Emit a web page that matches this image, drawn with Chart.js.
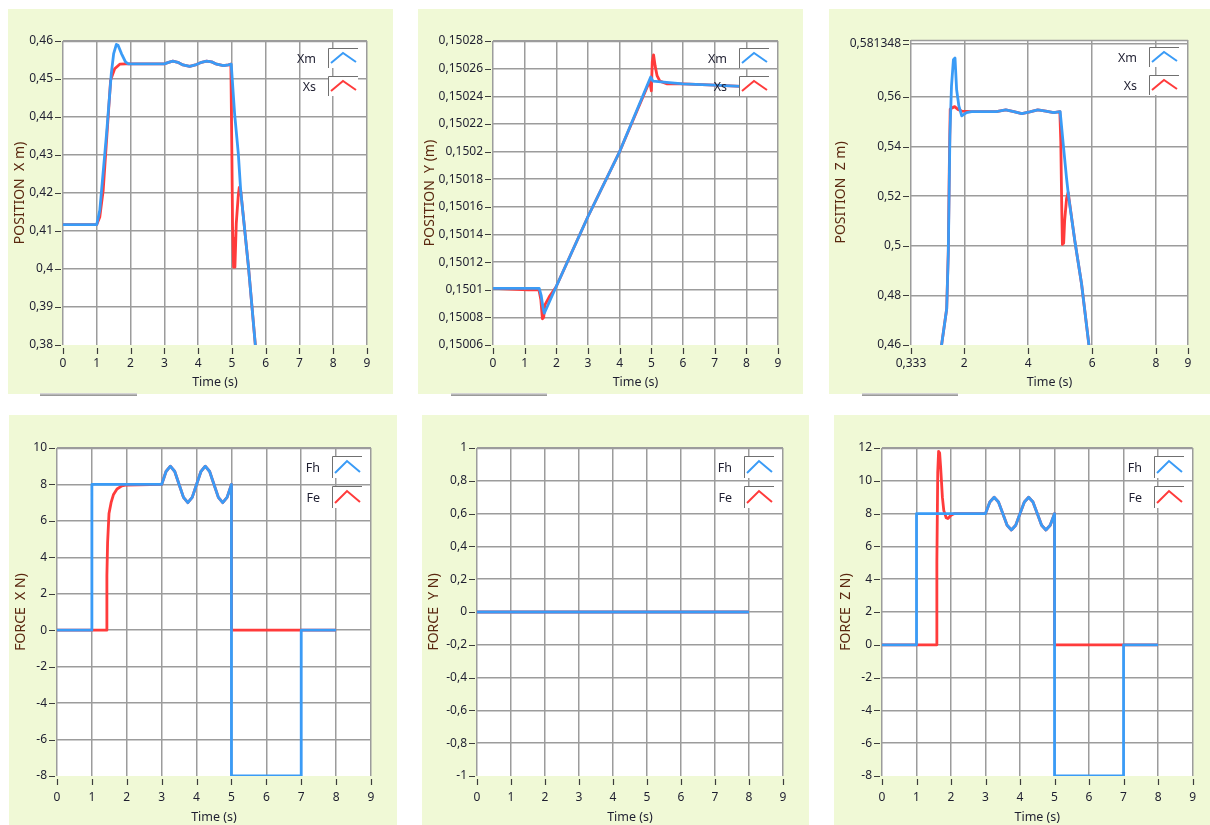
<!DOCTYPE html>
<html>
<head>
<meta charset="utf-8">
<script src="https://cdn.jsdelivr.net/npm/chart.js@4.4.1/dist/chart.umd.min.js"></script>
<style>
  html, body { margin: 0; padding: 0; background: #ffffff; }
  body { position: relative; width: 1210px; height: 825px; overflow: hidden; }
  .panel { position: absolute; background: #f0f9d6; }
  .panel canvas { position: absolute; left: 0; top: 0; }
  .bar { position: absolute; height: 3px; background: linear-gradient(#e2e2e2, #8c8c8c); }
</style>
</head>
<body>
<div class="panel" id="p1"><canvas id="c1"></canvas></div>
<div class="panel" id="p2"><canvas id="c2"></canvas></div>
<div class="panel" id="p3"><canvas id="c3"></canvas></div>
<div class="panel" id="p4"><canvas id="c4"></canvas></div>
<div class="panel" id="p5"><canvas id="c5"></canvas></div>
<div class="panel" id="p6"><canvas id="c6"></canvas></div>
<div class="bar" style="left:40px;top:393px;width:97px"></div>
<div class="bar" style="left:451px;top:393px;width:96px"></div>
<div class="bar" style="left:862px;top:393px;width:96px"></div>
<script>
// ---- time axis (seconds) ----
const timeTicks  = [0, 1, 2, 3, 4, 5, 6, 7, 8, 9];
const timeLabels = ['0', '1', '2', '3', '4', '5', '6', '7', '8', '9'];

// ---- POSITION X (m): master Xm, slave Xs ----
const posX_tm = [0, 1.00, 1.09, 1.29, 1.43, 1.50, 1.58, 1.63, 1.73, 1.85, 1.93,
                 3.00, 3.10, 3.25, 3.40, 3.55, 3.75, 3.95, 4.10, 4.25, 4.40, 4.55, 4.75, 4.90, 4.98,
                 5.08, 5.19, 5.26, 5.49, 5.69, 5.90];
const posX_xm = [0.4117, 0.4117, 0.4155, 0.4356, 0.4514, 0.4567, 0.4591, 0.4589, 0.4567, 0.4545, 0.4540,
                 0.4540, 0.4543, 0.4547, 0.4544, 0.4537, 0.4533, 0.4538, 0.4544, 0.4547, 0.4545, 0.4539, 0.4535, 0.4537, 0.4539,
                 0.4409, 0.4304, 0.4207, 0.4006, 0.3804, 0.3600];
const posX_ts = [0, 1.00, 1.09, 1.19, 1.29, 1.41, 1.53, 1.68, 1.86,
                 3.00, 3.10, 3.25, 3.40, 3.55, 3.75, 3.95, 4.10, 4.25, 4.40, 4.55, 4.75, 4.90,
                 4.97, 5.00, 5.02, 5.05, 5.07, 5.09, 5.13, 5.19, 5.22, 5.26, 5.49, 5.69, 5.90];
const posX_xs = [0.4117, 0.4117, 0.4137, 0.4207, 0.4339, 0.4497, 0.4527, 0.4539, 0.4540,
                 0.4540, 0.4543, 0.4547, 0.4544, 0.4537, 0.4533, 0.4538, 0.4544, 0.4547, 0.4545, 0.4539, 0.4535, 0.4537,
                 0.4539, 0.4300, 0.4111, 0.4005, 0.4080, 0.4005, 0.4120, 0.4195, 0.4215, 0.4207, 0.4006, 0.3804, 0.3600];
const posX_yTicks  = [0.38, 0.39, 0.40, 0.41, 0.42, 0.43, 0.44, 0.45, 0.46];
const posX_yLabels = ['0,38', '0,39', '0,4', '0,41', '0,42', '0,43', '0,44', '0,45', '0,46'];

// ---- POSITION Y (m) ----
const posY_tm = [0, 1.46, 1.52, 1.58, 1.62, 1.99, 3.00, 4.00, 4.98, 5.05, 6.00, 7.00, 8.00];
const posY_ym = [0.150101, 0.150101, 0.150096, 0.150087, 0.150083, 0.150102, 0.150153, 0.150200,
                 0.150254, 0.150251, 0.150249, 0.150248, 0.150247];
const posY_ts = [0, 1.10, 1.45, 1.51, 1.56, 1.60, 1.64, 1.78, 1.99, 3.00, 4.00, 4.95, 5.00, 5.03,
                 5.07, 5.12, 5.18, 5.27, 5.50, 6.00, 7.00, 8.00];
const posY_ys = [0.150101, 0.150100, 0.150100, 0.150093, 0.150079, 0.150080, 0.150089, 0.150095, 0.150102,
                 0.150153, 0.150200, 0.150251, 0.150244, 0.150265, 0.150270, 0.150262, 0.150255, 0.150251,
                 0.150249, 0.150249, 0.150248, 0.150247];
const posY_yTicks  = [0.15006, 0.15008, 0.15010, 0.15012, 0.15014, 0.15016, 0.15018, 0.15020,
                      0.15022, 0.15024, 0.15026, 0.15028];
const posY_yLabels = ['0,15006', '0,15008', '0,1501', '0,15012', '0,15014', '0,15016', '0,15018',
                      '0,1502', '0,15022', '0,15024', '0,15026', '0,15028'];

// ---- POSITION Z (m) ----
const posZ_tm = [1.00, 1.29, 1.45, 1.50, 1.55, 1.60, 1.66, 1.71, 1.76, 1.83, 1.92, 2.07, 2.23,
                 3.00, 3.30, 3.55, 3.80, 4.05, 4.30, 4.55, 4.80, 5.00,
                 5.09, 5.20, 5.27, 5.46, 5.67, 5.90, 6.00];
const posZ_zm = [0.4300, 0.4600, 0.4746, 0.4966, 0.5444, 0.5644, 0.5750, 0.5757, 0.5630, 0.5564, 0.5524, 0.5537, 0.5541,
                 0.5541, 0.5548, 0.5541, 0.5533, 0.5540, 0.5548, 0.5543, 0.5537, 0.5541,
                 0.5418, 0.5272, 0.5192, 0.5019, 0.4846, 0.4600, 0.4490];
const posZ_ts = [1.00, 1.29, 1.45, 1.50, 1.53, 1.56, 1.62, 1.70, 1.80, 1.92, 2.23,
                 3.00, 3.30, 3.55, 3.80, 4.05, 4.30, 4.55, 4.80,
                 4.99, 5.02, 5.05, 5.07, 5.09, 5.11, 5.14, 5.20, 5.25, 5.32, 5.46, 5.67, 5.90, 6.00];
const posZ_zs = [0.4300, 0.4600, 0.4746, 0.4980, 0.5300, 0.5551, 0.5556, 0.5561, 0.5550, 0.5543, 0.5541,
                 0.5541, 0.5548, 0.5541, 0.5533, 0.5540, 0.5548, 0.5543, 0.5537,
                 0.5541, 0.5420, 0.5150, 0.5005, 0.5060, 0.5010, 0.5100, 0.5190, 0.5215, 0.5150, 0.5019, 0.4846, 0.4600, 0.4490];
const posZ_xTicks  = [0.333, 2, 4, 6, 8, 9];
const posZ_xLabels = ['0,333', '2', '4', '6', '8', '9'];
const posZ_yTicks  = [0.46, 0.48, 0.50, 0.52, 0.54, 0.56, 0.581348];
const posZ_yLabels = ['0,46', '0,48', '0,5', '0,52', '0,54', '0,56', '0,581348'];

// ---- FORCE X (N): human Fh, environment Fe ----
const forceX_th = [0, 1, 1, 3, 3.125, 3.25, 3.375, 3.5, 3.625, 3.75, 3.875, 4, 4.125, 4.25, 4.375, 4.5,
                   4.625, 4.75, 4.875, 5, 5, 7, 7, 8];
const forceX_fh = [0, 0, 8, 8, 8.71, 9, 8.71, 8, 7.29, 7, 7.29, 8, 8.71, 9, 8.71, 8,
                   7.29, 7, 7.29, 8, -8, -8, 0, 0];
const forceX_te = [0, 1.41, 1.43, 1.45, 1.49, 1.55, 1.62, 1.72, 1.86, 2.00,
                   3, 3.125, 3.25, 3.375, 3.5, 3.625, 3.75, 3.875, 4, 4.125, 4.25, 4.375, 4.5,
                   4.625, 4.75, 4.875, 5, 5, 8];
const forceX_fe = [0, 0, 3.0, 4.8, 6.4, 7.0, 7.45, 7.75, 7.92, 7.97,
                   8, 8.71, 9, 8.71, 8, 7.29, 7, 7.29, 8, 8.71, 9, 8.71, 8,
                   7.29, 7, 7.29, 8, 0, 0];

// ---- FORCE Y (N) ----
const forceY_t  = [0, 8];
const forceY_fh = [0, 0];
const forceY_fe = [0, 0];
const forceY_yTicks  = [-1, -0.8, -0.6, -0.4, -0.2, 0, 0.2, 0.4, 0.6, 0.8, 1];
const forceY_yLabels = ['-1', '-0,8', '-0,6', '-0,4', '-0,2', '0', '0,2', '0,4', '0,6', '0,8', '1'];

// ---- FORCE Z (N) ----
const forceZ_th = [0, 1, 1, 3, 3.125, 3.25, 3.375, 3.5, 3.625, 3.75, 3.875, 4, 4.125, 4.25, 4.375, 4.5,
                   4.625, 4.75, 4.875, 5, 5, 7, 7, 8];
const forceZ_fh = [0, 0, 8, 8, 8.71, 9, 8.71, 8, 7.29, 7, 7.29, 8, 8.71, 9, 8.71, 8,
                   7.29, 7, 7.29, 8, -8, -8, 0, 0];
const forceZ_te = [0, 1.575, 1.59, 1.615, 1.64, 1.67, 1.70, 1.75, 1.79, 1.86, 1.91, 2.00, 2.10,
                   3, 3.125, 3.25, 3.375, 3.5, 3.625, 3.75, 3.875, 4, 4.125, 4.25, 4.375, 4.5,
                   4.625, 4.75, 4.875, 5, 5, 8];
const forceZ_fe = [0, 0, 5.0, 10.5, 11.8, 11.7, 10.8, 9.0, 8.2, 7.75, 7.7, 7.9, 8.0,
                   8, 8.71, 9, 8.71, 8, 7.29, 7, 7.29, 8, 8.71, 9, 8.71, 8,
                   7.29, 7, 7.29, 8, 0, 0];

const forceXZ_yTicksX  = [-8, -6, -4, -2, 0, 2, 4, 6, 8, 10];
const forceXZ_yLabelsX = ['-8', '-6', '-4', '-2', '0', '2', '4', '6', '8', '10'];
const forceXZ_yTicksZ  = [-8, -6, -4, -2, 0, 2, 4, 6, 8, 10, 12];
const forceXZ_yLabelsZ = ['-8', '-6', '-4', '-2', '0', '2', '4', '6', '8', '10', '12'];

// ---- styling ----
const BLUE = '#3a9bf6', RED = '#ff3b3b';
const GRID = '#9c9c9c', TICKMARK = '#3c3c3c', LABEL = '#1e1e30', TITLE = '#5a2810';
const FONT = "'Noto Sans', 'Liberation Sans', sans-serif";

function pairs(t, v) { return t.map((x, i) => ({ x: x, y: v[i] })); }

// white plot area on the green panel
const plotBackground = {
  id: 'plotBackground',
  beforeDraw(chart) {
    const { ctx, chartArea: a } = chart;
    ctx.save();
    ctx.fillStyle = '#ffffff';
    ctx.fillRect(a.left, a.top, a.right - a.left, a.bottom - a.top);
    ctx.restore();
  }
};

// small dark tick marks set slightly off the plot edge, plus top frame line
const tickMarks = {
  id: 'tickMarks',
  afterDraw(chart, args, opts) {
    const { ctx, chartArea: a, scales } = chart;
    ctx.save();
    ctx.strokeStyle = GRID;
    ctx.lineWidth = 1.5;
    ctx.beginPath();
    ctx.moveTo(a.left, a.top + 0.5); ctx.lineTo(a.right, a.top + 0.5);
    ctx.stroke();
    ctx.strokeStyle = TICKMARK;
    ctx.lineWidth = 1.2;
    ctx.beginPath();
    scales.x.ticks.forEach(t => {
      const px = Math.round(scales.x.getPixelForValue(t.value)) + 0.5;
      ctx.moveTo(px, a.bottom + 3); ctx.lineTo(px, a.bottom + 9);
    });
    const ys = scales.y.ticks.map(t => Math.round(scales.y.getPixelForValue(t.value)) + 0.5);
    if (opts.topMark) ys.push(Math.round(a.top) + 0.5);
    ys.forEach(py => { ctx.moveTo(a.left - 8, py); ctx.lineTo(a.left - 2, py); });
    ctx.stroke();
    ctx.restore();
  }
};

// series legend boxes at the top-right corner of the plot
const boxLegend = {
  id: 'boxLegend',
  afterDraw(chart, args, opts) {
    const { ctx, chartArea: a } = chart;
    const bw = 30, bh = opts.boxH, x0 = Math.round(a.right) - 39;
    ctx.save();
    opts.items.forEach((it, i) => {
      const by = Math.round(a.top) + opts.first + i * opts.gap;
      ctx.fillStyle = '#ffffff';
      ctx.fillRect(x0, by, bw, bh);
      ctx.strokeStyle = '#707070';
      ctx.lineWidth = 1;
      ctx.beginPath();
      ctx.moveTo(x0 + 0.5, by + bh); ctx.lineTo(x0 + 0.5, by + 0.5); ctx.lineTo(x0 + bw, by + 0.5);
      ctx.stroke();
      ctx.strokeStyle = it.color;
      ctx.lineWidth = 2;
      ctx.lineJoin = 'miter';
      ctx.beginPath();
      ctx.moveTo(x0 + 3, by + bh - 5); ctx.lineTo(x0 + 15, by + 5); ctx.lineTo(x0 + 28, by + bh - 6);
      ctx.stroke();
      ctx.fillStyle = LABEL;
      ctx.font = '12.5px ' + FONT;
      ctx.textAlign = 'right';
      ctx.textBaseline = 'middle';
      ctx.fillText(it.label, x0 - 12, by + bh / 2 + 1);
    });
    ctx.restore();
  }
};

function makeChart(n, box, plot, spec) {
  const panel = document.getElementById('p' + n);
  const canvas = document.getElementById('c' + n);
  const w = box[2] - box[0], h = box[3] - box[1];
  panel.style.left = box[0] + 'px'; panel.style.top = box[1] + 'px';
  panel.style.width = w + 'px'; panel.style.height = h + 'px';
  canvas.width = w; canvas.height = h;
  canvas.style.width = w + 'px'; canvas.style.height = h + 'px';

  const line = (label, t, v, color) => ({
    label: label, data: pairs(t, v), borderColor: color, backgroundColor: color,
    borderWidth: 2.8, pointRadius: 0, tension: 0, fill: false, borderJoinStyle: 'round'
  });

  return new Chart(canvas, {
    type: 'line',
    data: { datasets: [
      line(spec.names[0], spec.t1, spec.v1, BLUE),
      line(spec.names[1], spec.t2, spec.v2, RED)
    ] },
    options: {
      responsive: false, animation: false, devicePixelRatio: 1, events: [],
      layout: { padding: { left: 0, top: plot[1] - box[1], right: box[2] - plot[2], bottom: 0 } },
      plugins: {
        legend: { display: false }, tooltip: { enabled: false },
        tickMarks: { topMark: !!spec.topMark },
        boxLegend: {
          items: [{ label: spec.names[0], color: BLUE }, { label: spec.names[1], color: RED }],
          first: spec.legFirst, gap: spec.legGap, boxH: spec.legH
        }
      },
      scales: {
        x: {
          type: 'linear', min: spec.xMin, max: spec.xMax,
          afterBuildTicks: s => { s.ticks = spec.xTicks.map(v => ({ value: v })); },
          afterFit: s => { s.height = box[3] - plot[3]; },
          ticks: {
            autoSkip: false, maxRotation: 0, padding: spec.xPad, color: LABEL,
            font: { family: FONT, size: 12 },
            callback: (v, i) => spec.xLabels[i]
          },
          grid: { color: GRID, lineWidth: 1.5, drawTicks: false },
          border: { display: false },
          title: {
            display: true, text: 'Time (s)', color: LABEL,
            font: { family: FONT, size: 12.5 }, padding: { top: 0, bottom: spec.xTitlePad }
          }
        },
        y: {
          type: 'linear', min: spec.yMin, max: spec.yMax,
          afterBuildTicks: s => { s.ticks = spec.yTicks.map(v => ({ value: v })); },
          afterFit: s => { s.width = plot[0] - box[0]; },
          ticks: {
            autoSkip: false, padding: 10, color: LABEL,
            font: { family: FONT, size: 12 },
            callback: (v, i) => spec.yLabels[i]
          },
          grid: {
            color: c => (c.index === 0 ? 'rgba(0,0,0,0)' : GRID),
            lineWidth: 1.5, drawTicks: false
          },
          border: { display: false },
          title: {
            display: true, text: spec.yTitle, color: TITLE,
            font: { family: FONT, size: 14 }, padding: { top: 4, bottom: 0 }
          }
        }
      }
    },
    plugins: [plotBackground, tickMarks, boxLegend]
  });
}

const topLeg = { legFirst: 7, legGap: 28, legH: 20, xPad: 11, xTitlePad: 4 };
const botLeg = { legFirst: 8, legGap: 30, legH: 22, xPad: 14, xTitlePad: 0 };

makeChart(1, [8, 9, 393, 394], [63, 41, 367, 345], Object.assign({
  names: ['Xm', 'Xs'], t1: posX_tm, v1: posX_xm, t2: posX_ts, v2: posX_xs,
  xMin: 0, xMax: 9, xTicks: timeTicks, xLabels: timeLabels,
  yMin: 0.38, yMax: 0.46, yTicks: posX_yTicks, yLabels: posX_yLabels,
  yTitle: 'POSITION  X m)'
}, topLeg));

makeChart(2, [418, 9, 803, 394], [493, 41, 778, 345], Object.assign({
  names: ['Xm', 'Xs'], t1: posY_tm, v1: posY_ym, t2: posY_ts, v2: posY_ys,
  xMin: 0, xMax: 9, xTicks: timeTicks, xLabels: timeLabels,
  yMin: 0.15006, yMax: 0.15028, yTicks: posY_yTicks, yLabels: posY_yLabels,
  yTitle: 'POSITION  Y (m)'
}, topLeg));

makeChart(3, [829, 9, 1210, 394], [911, 40, 1188, 345], Object.assign({
  names: ['Xm', 'Xs'], t1: posZ_tm, v1: posZ_zm, t2: posZ_ts, v2: posZ_zs,
  xMin: 0.333, xMax: 9, xTicks: posZ_xTicks, xLabels: posZ_xLabels,
  yMin: 0.46, yMax: 0.58296, yTicks: posZ_yTicks, yLabels: posZ_yLabels,
  yTitle: 'POSITION  Z m)', topMark: true
}, topLeg));

makeChart(4, [9, 415, 397, 825], [57, 448, 371, 776], Object.assign({
  names: ['Fh', 'Fe'], t1: forceX_th, v1: forceX_fh, t2: forceX_te, v2: forceX_fe,
  xMin: 0, xMax: 9, xTicks: timeTicks, xLabels: timeLabels,
  yMin: -8, yMax: 10, yTicks: forceXZ_yTicksX, yLabels: forceXZ_yLabelsX,
  yTitle: 'FORCE  X N)'
}, botLeg));

makeChart(5, [422, 415, 809, 825], [477, 448, 783, 776], Object.assign({
  names: ['Fh', 'Fe'], t1: forceY_t, v1: forceY_fh, t2: forceY_t, v2: forceY_fe,
  xMin: 0, xMax: 9, xTicks: timeTicks, xLabels: timeLabels,
  yMin: -1, yMax: 1, yTicks: forceY_yTicks, yLabels: forceY_yLabels,
  yTitle: 'FORCE  Y N)'
}, botLeg));

makeChart(6, [834, 415, 1210, 825], [882, 448, 1196, 776], Object.assign({
  names: ['Fh', 'Fe'], t1: forceZ_th, v1: forceZ_fh, t2: forceZ_te, v2: forceZ_fe,
  xMin: 0, xMax: 9, xTicks: timeTicks, xLabels: timeLabels,
  yMin: -8, yMax: 12, yTicks: forceXZ_yTicksZ, yLabels: forceXZ_yLabelsZ,
  yTitle: 'FORCE  Z N)'
}, botLeg));
</script>
</body>
</html>
